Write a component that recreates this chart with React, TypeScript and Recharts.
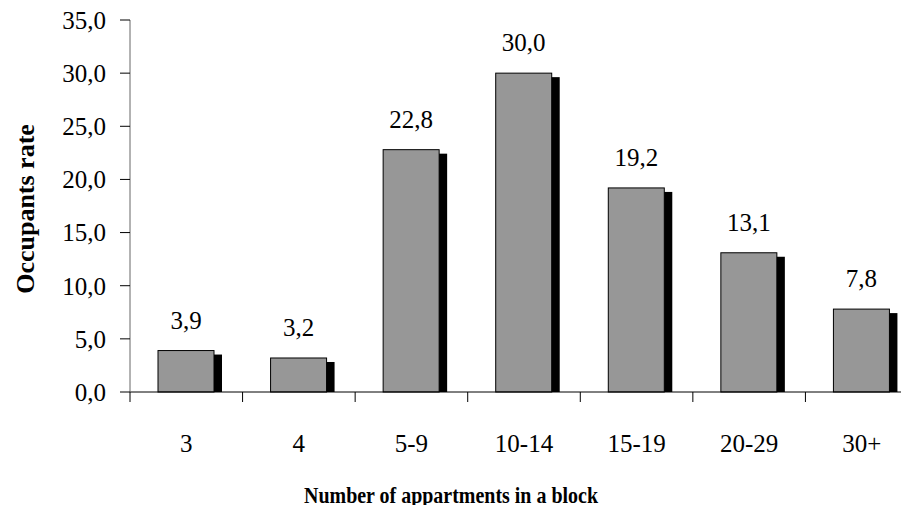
import { BarChart, Bar, XAxis, YAxis, LabelList } from "recharts";

const categories = ["3", "4", "5-9", "10-14", "15-19", "20-29", "30+"];
const rates = [3.9, 3.2, 22.8, 30.0, 19.2, 13.1, 7.8];
const yTicks = [0, 5, 10, 15, 20, 25, 30, 35];

const data = categories.map((name, i) => ({ name, rate: rates[i] }));

const FONT = "'Liberation Serif', 'DejaVu Serif', Georgia, serif";
const fmt = (v: number) => v.toFixed(1).replace(".", ",");

const CHART_W = 918;
const PLOT_LEFT = 130;
const BAND = (CHART_W - PLOT_LEFT) / categories.length;

// grey bar with a black drop shadow to the right
const ShadowBar = (props: any) => {
  const { x, y, width, height } = props;
  if (!height) return null;
  return (
    <g>
      <rect x={x + 8} y={y + 4} width={width} height={height - 4} fill="#000" />
      <rect
        x={x}
        y={y}
        width={width}
        height={height}
        fill="#979797"
        stroke="#000"
        strokeWidth={1}
      />
    </g>
  );
};

// x ticks sit on category boundaries, labels in the middle
const XTick = (props: any) => {
  const { x, y, payload } = props;
  const axisY = y - 41;
  const left = x - BAND / 2;
  return (
    <g>
      <line x1={left} y1={axisY} x2={left} y2={axisY + 10} stroke="#000" />
      <text
        x={x}
        y={axisY + 60}
        textAnchor="middle"
        fontFamily={FONT}
        fontSize={25}
        fill="#000"
      >
        {payload.value}
      </text>
    </g>
  );
};

const YLabel = () => (
  <text
    x={34}
    y={209}
    transform="rotate(-90, 34, 209)"
    textAnchor="middle"
    fontFamily={FONT}
    fontSize={26}
    fontWeight="bold"
    fill="#000"
  >
    Occupants rate
  </text>
);

// Garamond-like: taller glyphs, squeezed to the original width
const XLabel = () => (
  <text
    x={451}
    y={503}
    textAnchor="middle"
    fontFamily={FONT}
    fontSize={23}
    fontWeight="bold"
    textLength={294}
    lengthAdjust="spacingAndGlyphs"
    fill="#000"
  >
    Number of appartments in a block
  </text>
);

export default function App() {
  return (
    <div
      style={{
        margin: -8,
        width: 909,
        height: 513,
        overflow: "hidden",
        background: "#fff",
        fontFamily: FONT,
      }}
    >
      <BarChart
        width={CHART_W}
        height={513}
        data={data}
        margin={{ top: 20, right: 0, left: 0, bottom: 0 }}
      >
        <XAxis
          dataKey="name"
          height={121}
          axisLine={{ stroke: "#000" }}
          tickLine={false}
          tickSize={10}
          tickMargin={31}
          tick={<XTick />}
          interval={0}
          label={<XLabel />}
        />
        <YAxis
          width={130}
          domain={[0, 35]}
          ticks={yTicks}
          interval={0}
          tickFormatter={fmt}
          axisLine={{ stroke: "#666" }}
          tickLine={{ stroke: "#000" }}
          tickSize={10}
          tickMargin={14}
          tick={{ fill: "#000", fontSize: 25, fontFamily: FONT }}
          label={<YLabel />}
        />
        <Bar dataKey="rate" barSize={56} shape={<ShadowBar />} isAnimationActive={false}>
          <LabelList
            dataKey="rate"
            position="top"
            offset={22}
            formatter={(v: any) => fmt(Number(v))}
            fontFamily={FONT}
            fontSize={25}
            fill="#000"
          />
        </Bar>
      </BarChart>
    </div>
  );
}
